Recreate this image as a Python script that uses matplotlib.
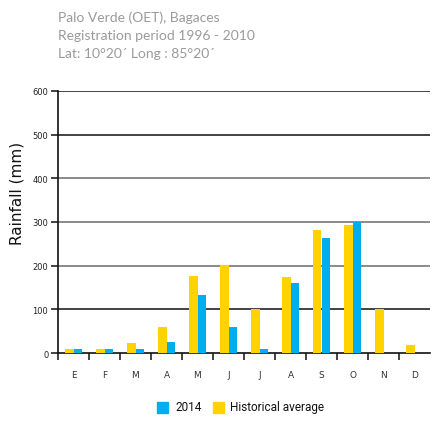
import matplotlib
matplotlib.use("Agg")
import matplotlib.pyplot as plt
import numpy as np
from matplotlib.patches import Rectangle

months = ["E", "F", "M", "A", "M", "J", "J", "A", "S", "O", "N", "D"]
hist_avg = [10, 10, 23, 60, 176, 201, 100, 175, 282, 293, 100, 18]
rain_2014 = [10, 10, 10, 26, 133, 60, 9, 161, 264, 300, 0, 0]
yticks = [0, 100, 200, 300, 400, 500, 600]
title_lines = ["Palo Verde (OET), Bagaces",
               "Registration period 1996 - 2010",
               "Lat: 10\u00b020\u00b4 Long : 85\u00b020\u00b4"]

BLUE = "#00AEEF"
YELLOW = "#FFD200"

W, H = 437, 427
fig = plt.figure(figsize=(W / 100, H / 100), dpi=100)
ax = fig.add_axes([58 / W, 1 - 354 / H, 372 / W, 262 / H])

x = np.arange(len(months))
bw = 0.29
ax.bar(x - bw / 2, hist_avg, width=bw, color=YELLOW, zorder=3)
ax.bar(x + bw / 2, rain_2014, width=bw, color=BLUE, zorder=3)

ax.set_xlim(-0.5, len(months) - 0.5)
ax.set_ylim(0, 600)

grid_colors = {100: "#222222", 200: "#777777", 300: "#777777",
               400: "#777777", 500: "#222222", 600: "#222222"}
for v, c in grid_colors.items():
    ax.axhline(v, color=c, lw=1.2, zorder=2)

for s in ["top", "right"]:
    ax.spines[s].set_visible(False)
ax.spines["left"].set_linewidth(1.2)
ax.spines["bottom"].set_linewidth(1.2)
ax.spines["left"].set_color("#111111")
ax.spines["bottom"].set_color("#111111")

ax.set_yticks(yticks)
ax.set_yticklabels([str(v) for v in yticks], fontsize=6, color="#222222")
ax.tick_params(axis="y", length=5, width=1.2, color="#222222", pad=2)

ax.set_xticks(np.arange(-0.5, len(months) - 0.5, 1.0))
ax.set_xticklabels([])
ax.set_xticks(x, minor=True)
ax.set_xticklabels(months, minor=True, fontsize=6.5, color="#333333")
ax.tick_params(axis="x", which="major", length=5, width=1.2, color="#222222",
               direction="out")
ax.tick_params(axis="x", which="minor", length=0, pad=12)

fig.text(17 / W, 1 - 193 / H, "Rainfall (mm)", fontsize=11, color="#111111",
         rotation=90, ha="center", va="center")

for i, t in enumerate(title_lines):
    fig.text(58 / W, 1 - (18 + 18 * i) / H, t, fontsize=10, color="#9a9a9a",
             va="center", ha="left", family="Lato")

# legend
ly = 1 - 408 / H
sq = 11
fig.patches.append(Rectangle((157 / W, ly - sq / 2 / H), sq / W, sq / H,
                             transform=fig.transFigure, color=BLUE))
fig.text(175 / W, ly, "2014", fontsize=8.5, va="center", ha="left",
         color="#111111", family="Roboto", stretch="condensed")
fig.patches.append(Rectangle((213 / W, ly - sq / 2 / H), sq / W, sq / H,
                             transform=fig.transFigure, color=YELLOW))
fig.text(230 / W, ly, "Historical average", fontsize=8.5, va="center", ha="left",
         color="#111111", family="Roboto", stretch="condensed")

fig.savefig("out.png", dpi=100)
